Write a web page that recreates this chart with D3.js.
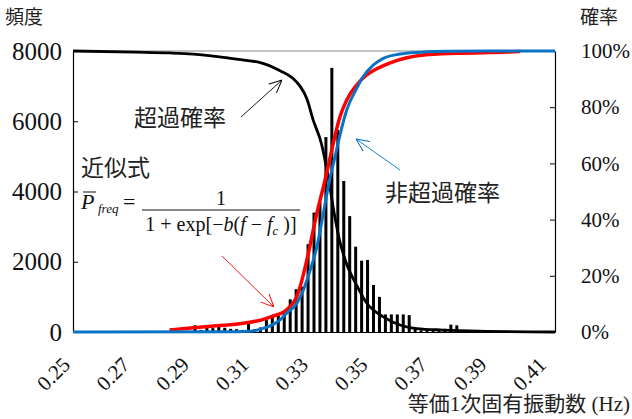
<!DOCTYPE html>
<html>
<head>
<meta charset="utf-8">
<script src="https://cdn.jsdelivr.net/npm/d3@7"></script>
</head>
<body style="margin:0;background:#fff">
<svg id="chart" width="632" height="419"></svg>
<script>
// histogram: bin centre (Hz) and count
const binCentres = [0.282, 0.284, 0.286, 0.288, 0.290, 0.292, 0.294, 0.296, 0.298, 0.300,
    0.302, 0.304, 0.306, 0.308, 0.310, 0.312, 0.314, 0.316, 0.318, 0.320,
    0.322, 0.324, 0.326, 0.328, 0.330, 0.332, 0.334, 0.336, 0.338, 0.340,
    0.342, 0.344, 0.346, 0.348, 0.350, 0.352, 0.354, 0.356, 0.358, 0.360,
    0.362, 0.364, 0.366, 0.368, 0.370, 0.372, 0.374, 0.376, 0.378, 0.380];
const binCounts = [100, 0, 0, 0, 190, 60, 180, 110, 160, 120,
    90, 80, 60, 260, 80, 130, 340, 450, 510, 590,
    930, 1220, 1290, 2500, 3400, 3700, 5550, 7520, 5750, 4300,
    3300, 2430, 2030, 2050, 1340, 1000, 500, 500, 500, 500,
    480, 120, 50, 90, 80, 80, 90, 210, 190, 50];

// exceedance probability (%) - black
const exceedCurve = [[0.249, 100], [0.27, 99.6], [0.2816, 99.3], [0.2894, 98.9], [0.3008, 97.6],
    [0.3085, 96.5], [0.3119, 95.9], [0.3186, 93], [0.3229, 90.3], [0.3253, 87.5],
    [0.3276, 83], [0.3297, 75.5], [0.3325, 67], [0.3348, 55], [0.337, 41],
    [0.3385, 33], [0.3407, 25], [0.3444, 16.5], [0.3477, 10.3], [0.3533, 5.4],
    [0.3589, 2.5], [0.3645, 1.2], [0.3734, 0.7], [0.3858, 0.3], [0.411, 0]];

// non-exceedance, data (%) - red
const nonExceedData = [[0.2816, 0.7], [0.2894, 1.5], [0.2973, 2.2], [0.3062, 3.1], [0.313, 4.5],
    [0.3163, 5.7], [0.3197, 7], [0.3219, 9], [0.3242, 12.6], [0.3253, 16],
    [0.3281, 28], [0.3309, 42], [0.3337, 54], [0.3354, 62], [0.3371, 70],
    [0.3387, 76.5], [0.341, 82.6], [0.3444, 88], [0.3477, 91.5], [0.3499, 93],
    [0.3556, 95.8], [0.3612, 97.6], [0.3668, 98.6], [0.378, 99.2], [0.3948, 99.6], [0.3993, 99.8]];

// non-exceedance, fitted (%) - blue
const nonExceedFit = [[0.249, 0], [0.3, 0.1], [0.3085, 0.3], [0.3141, 1.7], [0.3186, 4.3],
    [0.3208, 6.7], [0.3242, 10.2], [0.3264, 14.9], [0.3287, 22], [0.3309, 30],
    [0.3331, 42], [0.3354, 55], [0.3371, 62.5], [0.3387, 70], [0.341, 79],
    [0.3444, 86.8], [0.3466, 91], [0.3499, 95], [0.3533, 97.4], [0.3589, 98.9],
    [0.3645, 99.5], [0.3757, 99.9], [0.411, 100]];

const xTicks = [0.25, 0.27, 0.29, 0.31, 0.33, 0.35, 0.37, 0.39, 0.41];
const countTicks = [0, 2000, 4000, 6000, 8000];
const pctTicks = [0, 20, 40, 60, 80, 100];

const LEFT = 73, RIGHT = 555, TOP = 51, BOTTOM = 332;
const BAR_W = 3;
const SERIF = "Liberation Serif";
const JP = "Noto Sans CJK JP";

const svg = d3.select("#chart");

const x = d3.scaleLinear().domain([0.249, 0.411]).range([LEFT, RIGHT]);
const yCount = d3.scaleLinear().domain([0, 8000]).range([BOTTOM, TOP]);
const yPct = d3.scaleLinear().domain([0, 100]).range([BOTTOM, TOP]);

// top frame line
svg.append("line")
    .attr("x1", LEFT).attr("x2", RIGHT)
    .attr("y1", TOP).attr("y2", TOP)
    .attr("stroke", "#888").attr("stroke-width", 1.2);

// ==================== bars =====================
svg.append("g")
    .selectAll("rect")
    .data(binCentres)
    .enter()
    .append("rect")
    .attr("x", d => x(d) - BAR_W / 2)
    .attr("width", BAR_W)
    .attr("y", (d, i) => yCount(binCounts[i]))
    .attr("height", (d, i) => BOTTOM - yCount(binCounts[i]))
    .attr("fill", "#000");

// ==================== axes =====================
// tick text goes into a serif tspan
function styleAxis(sel, size) {
    sel.attr("font-family", SERIF).attr("font-size", size);
    sel.select(".domain").attr("stroke", "#000").attr("stroke-width", 1.2);
    sel.selectAll("text").each(function () {
        const t = d3.select(this);
        const label = t.text();
        t.text("").attr("font-family", SERIF).attr("font-size", size).attr("fill", "#111");
        t.append("tspan").attr("font-family", SERIF).text(label);
    });
}

const leftAxis = svg.append("g")
    .attr("transform", `translate(${LEFT},0)`)
    .call(d3.axisLeft(yCount).tickValues(countTicks).tickSizeInner(-5).tickSizeOuter(0).tickPadding(11)
        .tickFormat(d3.format("d")));
styleAxis(leftAxis, 25);

const rightAxis = svg.append("g")
    .attr("transform", `translate(${RIGHT},0)`)
    .call(d3.axisRight(yPct).tickValues(pctTicks).tickSizeInner(-5).tickSizeOuter(0).tickPadding(26)
        .tickFormat(d => d + "%"));
styleAxis(rightAxis, 21);

const bottomAxis = svg.append("g")
    .attr("transform", `translate(0,${BOTTOM})`)
    .call(d3.axisBottom(x).tickValues(xTicks).tickSize(0).tickFormat(d3.format(".2f")));
styleAxis(bottomAxis, 21);
bottomAxis.selectAll("text")
    .attr("text-anchor", "end")
    .attr("y", 0).attr("dy", 0)
    .attr("transform", "translate(-5,34) rotate(-45)");

// ==================== curves =====================
const line = yS => d3.line().x(d => x(d[0])).y(d => yS(d[1])).curve(d3.curveMonotoneX);

svg.append("path").datum(exceedCurve)
    .attr("d", line(yPct))
    .attr("fill", "none").attr("stroke", "#000").attr("stroke-width", 2.8);
svg.append("path").datum(nonExceedData)
    .attr("d", line(yPct))
    .attr("fill", "none").attr("stroke", "#ff0000").attr("stroke-width", 3.5);
svg.append("path").datum(nonExceedFit)
    .attr("d", line(yPct))
    .attr("fill", "none").attr("stroke", "#0a72c4").attr("stroke-width", 3);

// ==================== annotations =====================
const defs = svg.append("defs");
[["arrBlack", "#000"], ["arrRed", "#ff0000"], ["arrBlue", "#0070c0"]].forEach(([id, c]) => {
    defs.append("marker")
        .attr("id", id)
        .attr("viewBox", "0 -6 12 12")
        .attr("refX", 12).attr("refY", 0)
        .attr("markerWidth", 13).attr("markerHeight", 13)
        .attr("markerUnits", "userSpaceOnUse")
        .attr("orient", "auto")
        .append("polyline")
        .attr("points", "0,-5.5 12,0 0,5.5")
        .attr("fill", "none").attr("stroke", c).attr("stroke-width", 0.9);
});

function arrow(x1, y1, x2, y2, c, id) {
    svg.append("line")
        .attr("x1", x1).attr("y1", y1).attr("x2", x2).attr("y2", y2)
        .attr("stroke", c).attr("stroke-width", 0.9)
        .attr("marker-end", `url(#${id})`);
}
arrow(241, 117, 282, 80, "#000", "arrBlack");
arrow(222, 256, 274, 307, "#ff0000", "arrRed");
arrow(400, 170, 356, 139, "#0070c0", "arrBlue");

function jpText(tx, ty, size, str, anchor) {
    return svg.append("text").attr("x", tx).attr("y", ty)
        .attr("text-anchor", anchor || "start")
        .attr("font-family", JP).attr("font-size", size).attr("fill", "#222")
        .text(str);
}
jpText(134, 126, 23, "超過確率");
jpText(385, 201, 23, "非超過確率");
jpText(81, 176, 23, "近似式");

// formula
function fmText(tx, ty, size, str, italic) {
    const t = svg.append("text").attr("x", tx).attr("y", ty)
        .attr("font-family", SERIF).attr("font-size", size).attr("fill", "#111");
    if (str) t.append("tspan").attr("font-family", SERIF)
        .attr("font-style", italic ? "italic" : "normal").text(str);
    return t;
}
fmText(81, 209, 22, "P", true);
svg.append("line").attr("x1", 83).attr("x2", 96).attr("y1", 192).attr("y2", 192)
    .attr("stroke", "#111").attr("stroke-width", 1);
fmText(98, 213, 13, "freq", true);
fmText(123, 209, 22, "=", false);
fmText(221, 205, 20, "1", false).attr("text-anchor", "middle");
svg.append("line").attr("x1", 142).attr("x2", 300).attr("y1", 210).attr("y2", 210)
    .attr("stroke", "#111").attr("stroke-width", 1);
const den = fmText(221, 231, 20, "", false).attr("text-anchor", "middle");
den.append("tspan").attr("font-family", SERIF).text("1 + exp[\u2212");
den.append("tspan").attr("font-family", SERIF).attr("font-style", "italic").text("b");
den.append("tspan").attr("font-family", SERIF).text("(");
den.append("tspan").attr("font-family", SERIF).attr("font-style", "italic").text("f");
den.append("tspan").attr("font-family", SERIF).text(" \u2212 ");
den.append("tspan").attr("font-family", SERIF).attr("font-style", "italic").text("f");
den.append("tspan").attr("font-family", SERIF).attr("font-style", "italic")
    .attr("font-size", 13).attr("dy", 4).text("c");
den.append("tspan").attr("font-family", SERIF).attr("dy", -4).text(" )]");

// axis titles
jpText(5, 24, 19, "頻度");
jpText(580, 24, 19, "確率");
const xTitle = jpText(630, 411, 21, "等価", "end");
xTitle.append("tspan").attr("font-family", SERIF).text("1");
xTitle.append("tspan").text("次固有振動数");
xTitle.append("tspan").attr("font-family", SERIF).text(" (Hz)");
</script>
</body>
</html>
